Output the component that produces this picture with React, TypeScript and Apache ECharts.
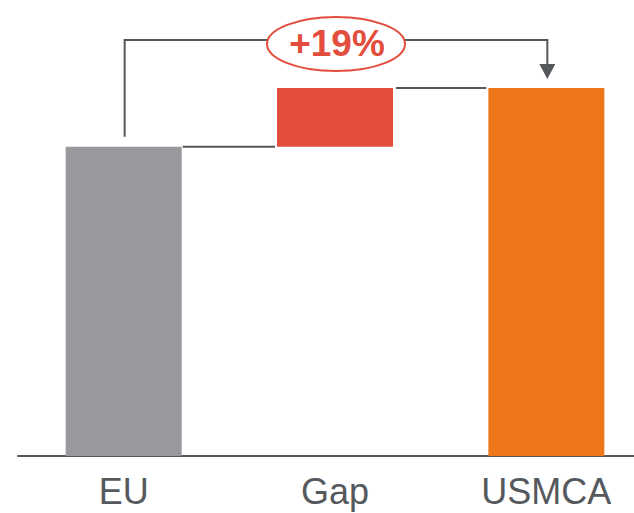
import React, { useEffect, useRef } from "react";
import * as echarts from "echarts";

const categories = ["EU", "Gap", "USMCA"];
const baseValues = [0, 100, 0];
const barValues = [100, 19, 119];
const barColors = ["#97999c", "#e34d3d", "#ee771b"];
const changeLabel = "+19%";

const LINE = "#54575b";
const FONT = "'Liberation Sans', Arial, Helvetica, sans-serif";

export default function App() {
  const ref = useRef<HTMLDivElement>(null);
  useEffect(() => {
    if (!ref.current) return;
    const chart = echarts.init(ref.current, undefined, { renderer: "svg" });
    const barWidth = 116;
    chart.setOption({
      animation: false,
      backgroundColor: "#ffffff",
      grid: { left: 18, right: 8, top: 23, bottom: 57, containLabel: false },
      xAxis: {
        type: "category",
        data: categories,
        axisLine: { lineStyle: { color: LINE, width: 2 } },
        axisTick: { show: false },
        axisLabel: { color: "#55595d", fontSize: 36, fontFamily: FONT, margin: 17 },
      },
      yAxis: {
        type: "value",
        min: 0,
        max: 140,
        show: false,
        splitLine: { show: false },
      },
      series: [
        {
          type: "bar",
          stack: "w",
          data: baseValues,
          barWidth,
          itemStyle: { color: "transparent" },
          silent: true,
        },
        {
          type: "bar",
          stack: "w",
          data: barValues.map((v, i) => ({ value: v, itemStyle: { color: barColors[i] } })),
          barWidth,
        },
      ],
    });

    const px = (cat: string, v: number) => chart.convertToPixel({ gridIndex: 0 }, [cat, v]) as number[];
    const half = barWidth / 2;
    const euTop = px("EU", barValues[0]);
    const gapBottom = px("Gap", baseValues[1]);
    const gapTop = px("Gap", baseValues[1] + barValues[1]);
    const usTop = px("USMCA", barValues[2]);
    const bracketY = 40;
    const midX = (euTop[0] + usTop[0]) / 2;
    const lineStyle = { stroke: LINE, lineWidth: 2 };

    chart.setOption({
      graphic: [
        {
          type: "line",
          shape: { x1: euTop[0] + half + 1, y1: (euTop[1] + gapBottom[1]) / 2, x2: gapBottom[0] - half - 2, y2: (euTop[1] + gapBottom[1]) / 2 },
          style: lineStyle,
        },
        {
          type: "line",
          shape: { x1: gapTop[0] + half + 3, y1: gapTop[1], x2: usTop[0] - half - 2, y2: gapTop[1] },
          style: lineStyle,
        },
        {
          type: "polyline",
          shape: {
            points: [
              [euTop[0] + 1, euTop[1] - 10],
              [euTop[0] + 1, bracketY],
              [usTop[0] + 1, bracketY],
              [usTop[0] + 1, usTop[1] - 20],
            ],
          },
          style: { ...lineStyle, fill: null },
        },
        {
          type: "polygon",
          shape: {
            points: [
              [usTop[0] + 1 - 8, usTop[1] - 24],
              [usTop[0] + 1 + 8, usTop[1] - 24],
              [usTop[0] + 1, usTop[1] - 9],
            ],
          },
          style: { fill: LINE },
        },
        {
          type: "ellipse",
          shape: { cx: midX + 1, cy: 44, rx: 69, ry: 27 },
          style: { fill: "#ffffff", stroke: "#e34d3d", lineWidth: 2 },
        },
        {
          type: "text",
          x: midX + 2,
          y: 43,
          style: {
            text: changeLabel,
            fill: "#e34d3d",
            font: `bold 37px ${FONT}`,
            align: "center",
            verticalAlign: "middle",
          },
        },
      ],
    });
    return () => chart.dispose();
  }, []);
  return (
    <div style={{ width: 634, height: 513, position: "absolute", left: 0, top: 0, overflow: "hidden", background: "#fff" }}>
      <div ref={ref} style={{ width: 660, height: 513 }} />
    </div>
  );
}
